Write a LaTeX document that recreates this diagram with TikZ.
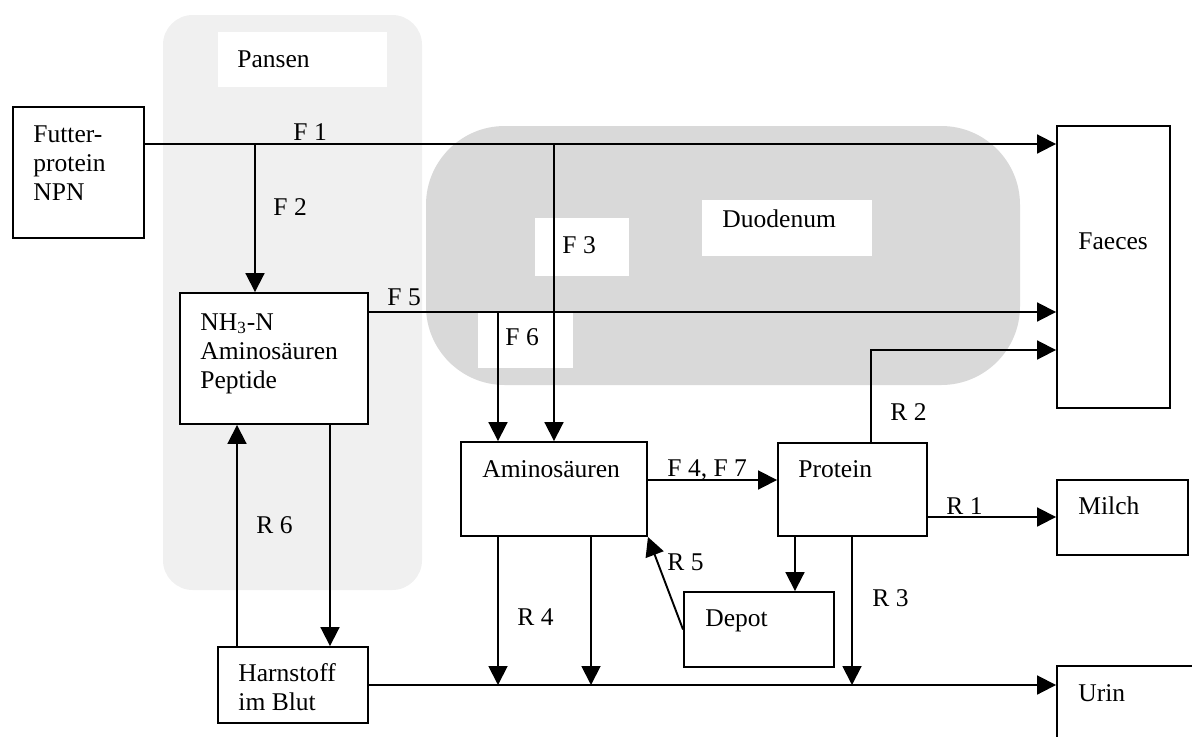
\documentclass[tikz,border=0pt]{standalone}
\usepackage{fontspec}
\setmainfont{Liberation Serif}
\usepackage{tikz}
\usetikzlibrary{arrows.meta, fit}

\tikzset{
  box/.style={draw, line width=0.9pt, inner sep=0pt, fill=white},
  txt/.style={inner sep=0pt, anchor=base west, align=left},
  flow/.style={line width=0.9pt, -{Triangle[length=8.9pt,width=8.9pt]}},
  plain/.style={line width=0.9pt}
}

\begin{document}
\begin{tikzpicture}[x=0.47pt, y=-0.47pt, font=\fontsize{12}{13.6}\selectfont]
\useasboundingbox (0,0) rectangle (1192,736);
\clip (0,0) rectangle (1192,736);

% Bereiche
\fill[gray!12, rounded corners=14pt] (163,15) rectangle (422,590);
\fill[gray!30, rounded corners=37pt] (426,126) rectangle (1020,385);
\fill[white] (218,32) rectangle (387,87);
\node[txt] (pansen) at (237,67) {Pansen};
\fill[white] (702,200) rectangle (872,256);
\node[txt] (duodenum) at (722,227) {Duodenum};
\fill[white] (535,218) rectangle (629,276);
\fill[white] (478,312) rectangle (573,368);

% Kaesten
\node[box, fit={(13,107) (144,238)}] (futter) {};
\node[box, fit={(180,293) (368,424)}] (nh3) {};
\node[box, fit={(218,647) (368,723)}] (harn) {};
\node[box, fit={(461,442) (647,536)}] (amino) {};
\node[box, fit={(778,443) (927,536)}] (protein) {};
\node[box, fit={(684,592) (834,667)}] (depot) {};
\node[box, fit={(1057,126) (1170,408)}] (faeces) {};
\node[box, fit={(1057,480) (1188,555)}] (milch) {};
\node[box, fit={(1057,666) (1210,760)}] (urin) {};

% Texte (Grundlinie der letzten Zeile)
\node[txt] (futtertxt) at (33,200) {Futter-\\protein\\NPN};
\node[txt] (nh3txt) at (200,388) {NH\textsubscript{3}-N\\Aminosäuren\\Peptide};
\node[txt] (harntxt) at (238,710) {Harnstoff\\im Blut};
\node[txt] (aminotxt) at (482,477) {Aminosäuren};
\node[txt] (proteintxt) at (798,477) {Protein};
\node[txt] (depottxt) at (705,626) {Depot};
\node[txt] (faecestxt) at (1078,249) {Faeces};
\node[txt] (milchtxt) at (1078,514) {Milch};
\node[txt] (urintxt) at (1078,701) {Urin};

% Hilfskoordinaten
\coordinate (yF1) at (0,144);
\coordinate (yF5) at (0,312);
\coordinate (yR2) at (0,350);
\coordinate (yU) at (0,685);
\coordinate (xF2) at (255,0);
\coordinate (xF3) at (554,0);
\coordinate (xF6) at (498,0);
\coordinate (xR6) at (237,0);
\coordinate (xH) at (330,0);
\coordinate (xR4b) at (591,0);
\coordinate (xDep) at (795,0);
\coordinate (xR3) at (852,0);
\coordinate (xR2) at (871,0);

% Fluesse
\draw[flow] (futter.east |- yF1) -- (faeces.west |- yF1);
\draw[flow] (xF2 |- yF1) -- (xF2 |- nh3.north);
\draw[flow] (xF3 |- yF1) -- (xF3 |- amino.north);
\draw[flow] (nh3.east |- yF5) -- (faeces.west |- yF5);
\draw[flow] (xF6 |- yF5) -- (xF6 |- amino.north);
\draw[flow] (amino.east |- 0,480) -- (protein.west |- 0,480);
\draw[flow] (protein.east |- 0,517) -- (milch.west |- 0,517);
\draw[flow] (xR2 |- protein.north) |- (faeces.west |- yR2);
\draw[flow] (xDep |- protein.south) -- (xDep |- depot.north);
\draw[flow] (xR3 |- protein.south) -- (xR3 |- yU);
\draw[flow] (xF6 |- amino.south) -- (xF6 |- yU);
\draw[flow] (xR4b |- amino.south) -- (xR4b |- yU);
\draw[flow] (depot.west) -- (amino.south east);
\draw[flow] (xR6 |- harn.north) -- (xR6 |- nh3.south);
\draw[flow] (xH |- nh3.south) -- (xH |- harn.north);
\draw[flow] (harn.east |- yU) -- (urin.west |- yU);

% Beschriftungen
\node[txt] (lF1) at (293,140) {F 1};
\node[txt] (lF2) at (273,215) {F 2};
\node[txt] (lF3) at (562,253) {F 3};
\node[txt] (lF5) at (387,305) {F 5};
\node[txt] (lF6) at (505,345) {F 6};
\node[txt] (lF47) at (667,476) {F 4, F 7};
\node[txt] (lR1) at (946,514) {R 1};
\node[txt] (lR2) at (890,420) {R 2};
\node[txt] (lR3) at (872,606) {R 3};
\node[txt] (lR4) at (517,625) {R 4};
\node[txt] (lR5) at (667,570) {R 5};
\node[txt] (lR6) at (256,533) {R 6};

\end{tikzpicture}
\end{document}
